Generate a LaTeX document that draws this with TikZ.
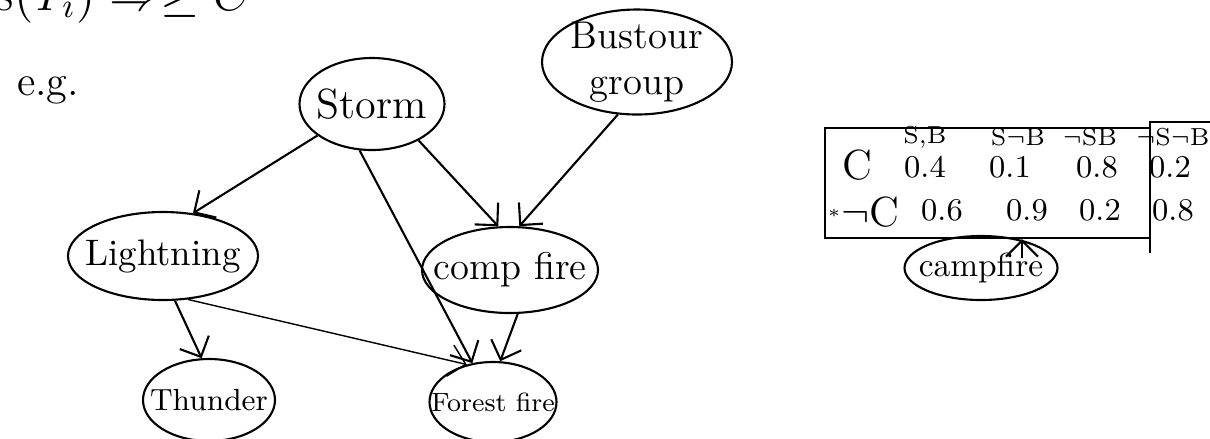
\documentclass[tikz,border=0pt]{standalone}
\usepackage{tikz}
\usetikzlibrary{shapes,arrows.meta}

\begin{document}
\begin{tikzpicture}[scale=1.0000]
	\tikzstyle{every node}=[scale=1.0000]
	\tikzstyle{bnode}=[draw, ellipse, semithick, inner sep=0pt]
	\tikzstyle{link}=[semithick, -{Straight Barb[length=1.6mm,width=3.2mm]}]
	\tikzstyle{cell}=[inner sep=0.5pt, font=\small]
	\tikzstyle{head}=[inner sep=0.5pt, font=\scriptsize]

	\useasboundingbox (0.0000,0.0000) rectangle (12.1000,-4.3800);

	% line cut off at the top of the page
	\node [anchor=base east, font=\Large]  (prev) at (2.6500,-0.1000) {Parents$(Y_i) \Rightarrow \geq C$};
	\node [font=\large]  (eg) at (0.4800,-0.9000) {e.g.};

	% network
	\node [bnode, minimum width=1.45cm, minimum height=0.92cm, label={[font=\fontsize{12}{14}\selectfont]center:Storm}]  (storm) at (3.7200,-1.0400) {};
	\node [bnode, minimum width=1.90cm, minimum height=1.05cm, label={[font=\fontsize{11}{13}\selectfont, align=center]center:Bustour\\group}]  (bus) at (6.3700,-0.6200) {};
	\node [bnode, minimum width=1.90cm, minimum height=0.88cm, label={[font=\fontsize{10.5}{12}\selectfont]center:Lightning}]  (light) at (1.6300,-2.5600) {};
	\node [bnode, minimum width=1.76cm, minimum height=0.86cm, label={[font=\fontsize{11}{13}\selectfont]center:comp fire}]  (camp) at (5.1000,-2.7000) {};
	\node [bnode, minimum width=1.32cm, minimum height=0.82cm, label={[font=\fontsize{8.7}{10}\selectfont]center:Thunder}]  (thunder) at (2.0900,-4.0000) {};
	\node [bnode, minimum width=1.27cm, minimum height=0.80cm, label={[font=\fontsize{7.5}{9}\selectfont]center:Forest fire}]  (forest) at (4.9300,-4.0200) {};

	\draw [link]  (storm.-150) -- (light.55);
	\draw [link]  (storm.-105) -- (forest.118);
	\draw [link]  (storm.-38) -- (camp.105);
	\draw [link]  (bus.-110) -- (camp.78);
	\draw [link]  (camp.-80) -- (forest.80);
	\draw [link]  (light.-75) -- (thunder.100);
	\draw [link, thin]  (light.-60) -- (forest.125);

	% table for comp fire
	\node [draw, semithick, rectangle, minimum width=3.25cm, minimum height=1.10cm, inner sep=0pt]  (cpt) at (9.8750,-1.8300) {};
	\draw [semithick]  (12.1000,-1.2200) -| (11.5000,-2.5300);

	\node [head]  (h1) at (9.2500,-1.3700) {S,B};
	\node [head]  (h2) at (10.1800,-1.3700) {S$\neg$B};
	\node [head]  (h3) at (10.9000,-1.3700) {$\neg$SB};
	\node [head]  (h4) at (11.7300,-1.3700) {$\neg$S$\neg$B};

	\node [cell, font=\large]  (rc) at (8.5700,-1.6500) {C};
	\node [cell]  (c1) at (9.2500,-1.6700) {0.4};
	\node [cell]  (c2) at (10.1000,-1.6700) {0.1};
	\node [cell]  (c3) at (10.9700,-1.6700) {0.8};
	\node [cell]  (c4) at (11.7000,-1.6700) {0.2};

	\node [cell, font=\tiny]  (star) at (8.3400,-2.1300) {$\ast$};
	\node [cell, font=\large]  (rn) at (8.7000,-2.1200) {$\neg$C};
	\node [cell]  (n1) at (9.4200,-2.1000) {0.6};
	\node [cell]  (n2) at (10.2700,-2.1000) {0.9};
	\node [cell]  (n3) at (11.0000,-2.1000) {0.2};
	\node [cell]  (n4) at (11.7300,-2.1000) {0.8};

	\node [bnode, minimum width=1.53cm, minimum height=0.64cm, label={[font=\fontsize{9.5}{11}\selectfont]center:campfire}]  (cf2) at (9.8100,-2.6800) {};
	\coordinate (cfup) at (10.2200,-2.5800);
	\draw [link]  (cfup) -- (cfup |- cpt.south);

\end{tikzpicture}
\end{document}
